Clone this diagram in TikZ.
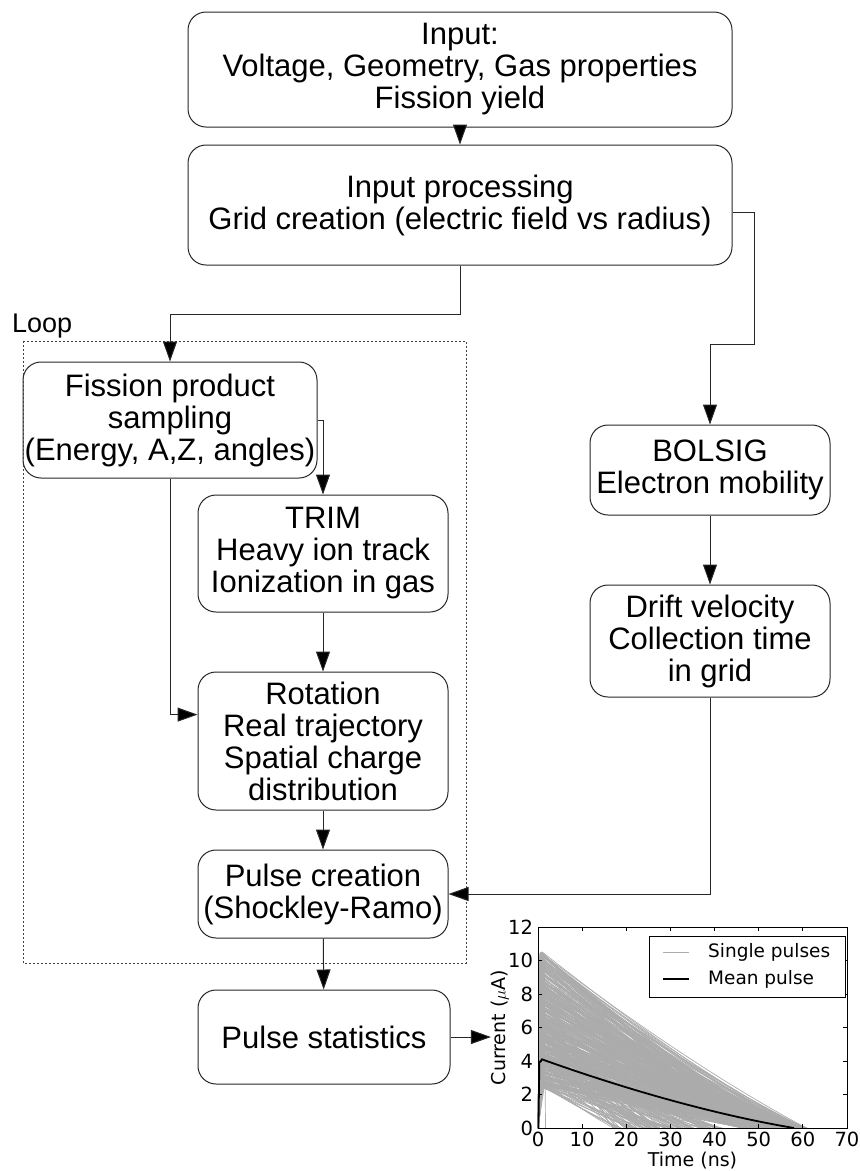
\documentclass[tikz,border=0pt]{standalone}
\usepackage{fontspec}
\setmainfont{Liberation Sans}
\newfontfamily\plotfont{DejaVu Sans}
\usetikzlibrary{arrows.meta,calc}

\begin{document}
\begin{tikzpicture}[x=1pt,y=-1pt,>={Triangle[length=20pt,width=14pt,fill=black]},
	box/.style={draw=black!85,line width=1pt,rounded corners=18pt,inner sep=0pt,align=center,font=\fontsize{31}{32}\selectfont},
	conn/.style={->,draw=black!85,line width=1pt},
	pulse/.style={black!33,line width=0.7pt},
	ticklab/.style={font=\plotfont\fontsize{19.5}{19.5}\selectfont,inner sep=0pt}]
	\useasboundingbox (0,0) rectangle (860,1171);
	% flow chart
	\node[box,minimum width=544pt,minimum height=115pt] (inp) at (460,69.5) {Input:\\Voltage, Geometry, Gas properties\\Fission yield};
	\node[box,minimum width=544pt,minimum height=120pt] (proc) at (460,205) {Input processing\\Grid creation (electric field vs radius)};
	\node[box,minimum width=294pt,minimum height=116pt] (fps) at (170,420) {Fission product\\sampling\\(Energy, A,Z, angles)};
	\node[box,minimum width=250pt,minimum height=117pt] (trim) at (323,553.5) {TRIM\\Heavy ion track\\Ionization in gas};
	\node[box,minimum width=250pt,minimum height=138pt] (rot) at (323,741) {Rotation\\Real trajectory\\Spatial charge\\distribution};
	\node[box,minimum width=250pt,minimum height=88pt] (pcre) at (323,894) {Pulse creation\\(Shockley-Ramo)};
	\node[box,minimum width=252pt,minimum height=94pt] (pstat) at (324,1037) {Pulse statistics};
	\node[box,minimum width=240pt,minimum height=90pt] (bolsig) at (710,470) {BOLSIG\\Electron mobility};
	\node[box,minimum width=240pt,minimum height=112pt] (drift) at (710,641) {Drift velocity\\Collection time\\in grid};
	% loop
	\draw[black!75,line width=0.9pt,dash pattern=on 2pt off 2pt] (23,341) rectangle (466,963);
	\node[anchor=base west,inner sep=0pt,font=\fontsize{27}{27}\selectfont] (looplab) at (12,332) {Loop};
	% connectors
	\coordinate (procout) at ($(proc.north east)!0.56!(proc.south east)$);
	\coordinate (rotin) at ($(rot.north west)!0.31!(rot.south west)$);
	\draw[conn] (inp) -- (proc);
	\draw[conn] (proc.south) -- ++(0,49) -| (fps.north);
	\draw[conn] (procout) -- ++(22,0) |- ($(bolsig.north)+(0,-80)$) -- (bolsig.north);
	\draw[conn] (fps.east) -| (trim.north);
	\draw[conn] (fps.south) |- (rotin);
	\draw[conn] (trim) -- (rot);
	\draw[conn] (rot) -- (pcre);
	\draw[conn] (pcre) -- (pstat);
	\draw[conn] (bolsig) -- (drift);
	\draw[conn] (drift.south) |- (pcre.east);
	% pulse plot
	\begin{scope}[shift={(538,1128)},x=4.414pt,y=16.75pt]
		\pgfmathsetseed{42}
		\foreach \i in {1,...,450}{
			\pgfmathsetmacro\u{rnd}
			\pgfmathsetmacro\pk{\u<0.25 ? 2.4+4.5*rnd : 2.5+8*rnd}
			\pgfmathsetmacro\te{\u<0.25 ? 17+25*rnd : 46+15*rnd}
			\pgfmathsetmacro\tz{0.3+1.2*rnd}
			\draw[pulse] (0,0) -- (\tz,\pk) .. controls ({\tz+(\te-\tz)/3},{0.62*\pk}) and ({\tz+2*(\te-\tz)/3},{0.27*\pk}) .. (\te,0);
		}
		\draw[pulse] (0,0) -- (0.8,10.3) -- (1.4,10.4) -- (1.7,0);
		\draw[line width=1.8pt] (0.1,0) -- (0.3,3.9) -- (0.9,4.1) .. controls (20,2.3) and (40,0.8) .. (58,0);
		\draw[line width=0.9pt] (0,0) rectangle (70,12);
		\foreach \x in {0,10,...,70}{
			\draw[line width=0.8pt] (\x,0) -- ++(0,0.24) (\x,12) -- ++(0,-0.24);
			\node[ticklab,anchor=north] (xt\x) at (\x,-0.25) {\x};
		}
		\foreach \y in {0,2,...,12}{
			\draw[line width=0.8pt] (0,\y) -- ++(0.9,0) (70,\y) -- ++(-0.9,0);
			\node[ticklab,anchor=east] (yt\y) at (-1.1,\y) {\y};
		}
		\node[ticklab,font=\plotfont\fontsize{19}{19}\selectfont] (xlab) at (35,-1.95) {Time (ns)};
		\node[ticklab,font=\plotfont\fontsize{19}{19}\selectfont,rotate=90] (ylab) at (-8.6,6) {Current ($\mu$A)};
	\end{scope}
	% legend
	\draw[fill=white,line width=0.9pt] (649,936) rectangle (845,997);
	\draw[pulse,line width=1pt] (663,952) -- (689,952);
	\draw[line width=1.8pt] (663,979) -- (689,979);
	\node[ticklab,font=\plotfont\fontsize{18.5}{18.5}\selectfont,anchor=west] (leg1) at (708,952) {Single pulses};
	\node[ticklab,font=\plotfont\fontsize{18.5}{18.5}\selectfont,anchor=west] (leg2) at (708,979) {Mean pulse};
	\draw[conn] (pstat.east) -- (pstat.east -| ylab.north);
\end{tikzpicture}
\end{document}
